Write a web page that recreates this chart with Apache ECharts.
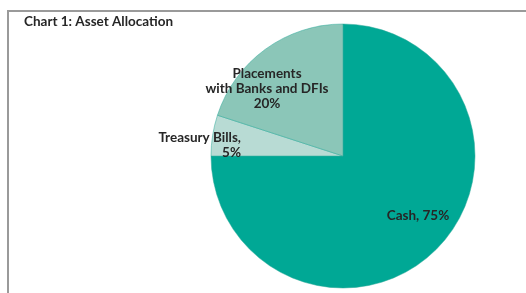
<!DOCTYPE html>
<html>
<head>
<meta charset="utf-8">
<script src="https://cdn.jsdelivr.net/npm/echarts@6/dist/echarts.min.js"></script>
<style>
html,body{margin:0;padding:0;background:#fff;}
#chart{width:526px;height:293px;}
</style>
</head>
<body>
<div id="chart"></div>
<script>
// data
var categories = ['Cash', 'Treasury Bills', 'Placements\nwith Banks and DFIs'];
var values = [75, 5, 20];
var sliceColors = ['#00a895', '#b8dbd4', '#8bc6b8'];

// where Excel put each label (centre x, centre y, align)
var labelSpots = [
	[418, 216, 'center'],
	[241, 145, 'right'],
	[267, 89, 'center']
];

var myChart = echarts.init(document.getElementById('chart'));
var pieData = [];
for (var i = 0; i < categories.length; i++) {
	pieData.push({
		name: categories[i],
		value: values[i],
		itemStyle: { color: sliceColors[i] }
	});
}

var option = {
	animation: false,
	title: {
		text: 'Chart 1: Asset Allocation',
		left: 19,
		top: 10,
		textStyle: {
			fontFamily: 'Lato',
			fontSize: 13.5,
			fontWeight: 'bold',
			color: '#262626'
		}
	},
	graphic: [{
		type: 'rect',
		shape: { x: 8, y: 11, width: 560, height: 320 },
		style: { fill: 'none', stroke: '#9a9a9a', lineWidth: 2 },
		silent: true
	}],
	series: [{
		type: 'pie',
		center: [343, 156],
		radius: 132,
		startAngle: 90,
		clockwise: true,
		data: pieData,
		itemStyle: { borderColor: '#2aa898', borderWidth: 0.5 },
		emphasis: { disabled: true },
		label: {
			show: true,
			position: 'inside',
			fontFamily: 'Lato',
			fontSize: 13.5,
			fontWeight: 'bold',
			color: '#262626',
			lineHeight: 15,
			formatter: function (p) {
				if (p.dataIndex == 0) return p.name + ', ' + p.value + '%'; // Cash fits on one line
				if (p.dataIndex == 2) return p.name + '\n' + p.value + '%';
				return p.name + ',\n' + p.value + '%';
			}
		},
		labelLine: { show: false },
		labelLayout: function (params) {
			var s = labelSpots[params.dataIndex];
			return { x: s[0], y: s[1], align: s[2], verticalAlign: 'middle' };
		}
	}]
};
myChart.setOption(option);
</script>
</body>
</html>
